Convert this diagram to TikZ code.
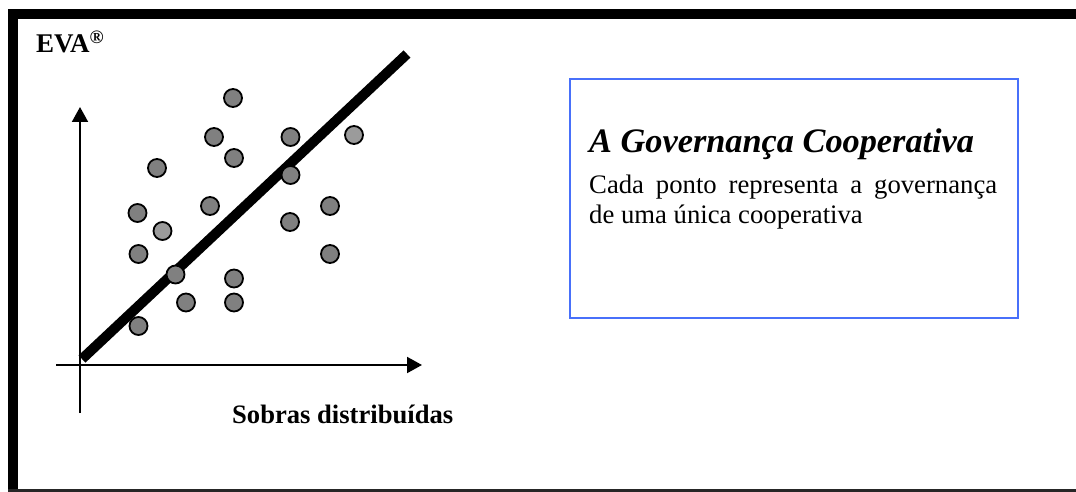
\documentclass[tikz,border=0pt]{standalone}
\usepackage{fontspec}
\setmainfont{Liberation Serif}
\usetikzlibrary{arrows.meta}
\definecolor{dotdark}{RGB}{128,128,128}
\definecolor{dotlight}{RGB}{155,155,155}
\definecolor{boxblue}{RGB}{72,112,250}
\tikzset{
  dot/.style={circle, draw=black, line width=1.8pt, fill=dotdark, minimum size=18pt, inner sep=0pt},
  dotl/.style={dot, fill=dotlight},
  axis/.style={line width=2pt, -{Triangle[length=15pt,width=16pt]}},
  fit/.style={line width=10pt},
  lbl/.style={anchor=base west, inner sep=0pt},
}
\begin{document}
\begin{tikzpicture}[x=1pt,y=-1pt]
\useasboundingbox (0,0) rectangle (1076,492);
% frame
\fill[black] (8,9) rectangle (1076,19);
\fill[black] (8,9) rectangle (18,492);
\fill[black!85] (8,489) rectangle (1076,491.5);
% axes
\coordinate (ybot) at (80,413);
\coordinate (ytop) at (80,107);
\coordinate (xleft) at (56,365);
\coordinate (xright) at (422,365);
\draw[axis] (ybot) -- (ytop);
\draw[axis] (xleft) -- (xright);
% regression line
\coordinate (fa) at (82,359);
\coordinate (fb) at (407,54);
\draw[fit] (fa) -- (fb);
% dots
\node[dot] (d1) at (233,98) {};
\node[dot] (d2) at (214,137) {};
\node[dot] (d3) at (290.5,137) {};
\node[dotl] (d4) at (354,135) {};
\node[dot] (d5) at (234,158) {};
\node[dot] (d6) at (157,168) {};
\node[dot] (d7) at (290.5,175) {};
\node[dot] (d8) at (210,206) {};
\node[dot] (d9) at (330,206) {};
\node[dot] (d10) at (137.5,213) {};
\node[dotl] (d11) at (162.5,231) {};
\node[dot] (d12) at (290,222) {};
\node[dot] (d13) at (138.5,254) {};
\node[dot] (d14) at (330,254) {};
\node[dot] (d15) at (175.5,274.5) {};
\node[dot] (d16) at (234,278.5) {};
\node[dot] (d17) at (186,302.5) {};
\node[dot] (d18) at (234,302.5) {};
\node[dot] (d19) at (138.5,326) {};
% labels
\node[lbl] (eva) at (36,53) {\fontsize{27}{32}\selectfont\bfseries EVA\textsuperscript{\textregistered}};
\node[lbl] (sobras) at (232,423) {\fontsize{26.6}{31}\selectfont\bfseries Sobras distribuídas};
% blue box
\node[draw=boxblue, line width=2pt, minimum width=448pt, minimum height=239pt, inner sep=0pt, anchor=north west] (box) at (569,78) {};
\node[lbl] (title) at (589,153) {\fontsize{34.3}{40}\selectfont\bfseries\itshape A Governança Cooperativa};
\node[lbl] (desc) at (589,193) {\parbox[t]{408pt}{\fontsize{26.7}{31}\selectfont Cada ponto representa a governança\linebreak de uma única cooperativa\par}};
\end{tikzpicture}
\end{document}
